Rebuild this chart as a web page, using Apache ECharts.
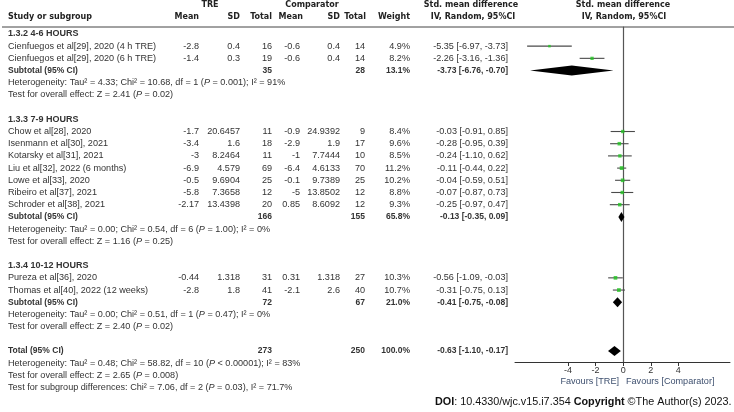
<!DOCTYPE html>
<html>
<head>
<meta charset="utf-8">
<script src="https://cdn.jsdelivr.net/npm/echarts@6/dist/echarts.min.js"></script>
<style>
  html,body{margin:0;padding:0;background:#fff;}
  #chart{width:734px;height:412px;}
</style>
</head>
<body>
<div id="chart"></div>
<script>
// ===== Data: studies =====
const STUDIES = [
  'Cienfuegos et al[29], 2020 (4 h TRE)',
  'Cienfuegos et al[29], 2020 (6 h TRE)',
  'Chow et al[28], 2020',
  'Isenmann et al[30], 2021',
  'Kotarsky et al[31], 2021',
  'Liu et al[32], 2022 (6 months)',
  'Lowe et al[33], 2020',
  'Ribeiro et al[37], 2021',
  'Schroder et al[38], 2021',
  'Pureza et al[36], 2020',
  'Thomas et al[40], 2022 (12 weeks)'
];
const TRE_MEAN  = [-2.8, -1.4, -1.7, -3.4, -3, -6.9, -0.5, -5.8, -2.17, -0.44, -2.8];
const TRE_SD    = [0.4, 0.3, 20.6457, 1.6, 8.2464, 4.579, 9.6904, 7.3658, 13.4398, 1.318, 1.8];
const TRE_N     = [16, 19, 11, 18, 11, 69, 25, 12, 20, 31, 41];
const COMP_MEAN = [-0.6, -0.6, -0.9, -2.9, -1, -6.4, -0.1, -5, 0.85, 0.31, -2.1];
const COMP_SD   = [0.4, 0.4, 24.9392, 1.9, 7.7444, 4.6133, 9.7389, 13.8502, 8.6092, 1.318, 2.6];
const COMP_N    = [14, 14, 9, 17, 10, 70, 25, 12, 12, 27, 40];
const WEIGHT    = [4.9, 8.2, 8.4, 9.6, 8.5, 11.2, 10.2, 8.8, 9.3, 10.3, 10.7];
const SMD       = [-5.35, -2.26, -0.03, -0.28, -0.24, -0.11, -0.04, -0.07, -0.25, -0.56, -0.31];
const CI_LO     = [-6.97, -3.16, -0.91, -0.95, -1.10, -0.44, -0.59, -0.87, -0.97, -1.09, -0.75];
const CI_HI     = [-3.73, -1.36, 0.85, 0.39, 0.62, 0.22, 0.51, 0.73, 0.47, -0.03, 0.13];
const STUDY_ROW = [1, 2, 8, 9, 10, 11, 12, 13, 14, 20, 21];

// ===== Data: subgroups =====
const GROUP_LABEL  = ['1.3.2 4-6 HOURS', '1.3.3 7-9 HOURS', '1.3.4 10-12 HOURS'];
const GROUP_HEAD_ROW = [0, 7, 19];
const GROUP_SUB_ROW  = [3, 15, 22];
const GROUP_TRE_N  = [35, 166, 72];
const GROUP_COMP_N = [28, 155, 67];
const GROUP_WEIGHT = [13.1, 65.8, 21.0];
const GROUP_SMD    = [-3.73, -0.13, -0.41];
const GROUP_LO     = [-6.76, -0.35, -0.75];
const GROUP_HI     = [-0.70, 0.09, -0.08];
const GROUP_HET = [
  'Heterogeneity: Tau² = 4.33; Chi² = 10.68, df = 1 ({i|P} = 0.001); I² = 91%',
  'Heterogeneity: Tau² = 0.00; Chi² = 0.54, df = 6 ({i|P} = 1.00); I² = 0%',
  'Heterogeneity: Tau² = 0.00; Chi² = 0.51, df = 1 ({i|P} = 0.47); I² = 0%'
];
const GROUP_TEST = [
  'Test for overall effect: Z = 2.41 ({i|P} = 0.02)',
  'Test for overall effect: Z = 1.16 ({i|P} = 0.25)',
  'Test for overall effect: Z = 2.40 ({i|P} = 0.02)'
];

// ===== Data: total =====
const TOTAL_ROW = 26;
const TOTAL_TRE_N = 273, TOTAL_COMP_N = 250, TOTAL_WEIGHT = 100.0;
const TOTAL_SMD = -0.63, TOTAL_LO = -1.10, TOTAL_HI = -0.17;
const TOTAL_NOTES = [
  'Heterogeneity: Tau² = 0.48; Chi² = 58.82, df = 10 ({i|P} < 0.00001); I² = 83%',
  'Test for overall effect: Z = 2.65 ({i|P} = 0.008)',
  'Test for subgroup differences: Chi² = 7.06, df = 2 ({i|P} = 0.03), I² = 71.7%'
];

const X_TICKS = [-4, -2, 0, 2, 4];

// ===== Styles =====
const TXT = '#333';
const F_BODY = '9.1px "Liberation Sans", Arial, sans-serif';
const F_BOLD = 'bold 8.5px "Liberation Sans", Arial, sans-serif';
const F_HEAD = 'bold 9px "Liberation Sans", Arial, sans-serif';
const F_COLHEAD = 'bold 8px "DejaVu Sans", Verdana, sans-serif';
const RICH = { i: { font: 'italic 9.1px "Liberation Sans", Arial, sans-serif', fill: TXT } };
const COL = { name: 8, treMean: 199, treSD: 240, treN: 272, compMean: 300, compSD: 340, compN: 365, weight: 410, ci: 508 };

function f2(v){ return v.toFixed(2); }
function ciText(m, lo, hi){ return f2(m) + ' [' + f2(lo) + ', ' + f2(hi) + ']'; }
function cell(x, text, align, font){ return { x, text: String(text), align: align || 'right', font: font || F_BODY }; }

// ===== Table rows =====
const tableRows = [];
GROUP_LABEL.forEach((g, gi) => {
  tableRows.push({ row: GROUP_HEAD_ROW[gi], cells: [cell(COL.name, g, 'left', F_HEAD)] });
  tableRows.push({ row: GROUP_SUB_ROW[gi], cells: [
    cell(COL.name, 'Subtotal (95% CI)', 'left', F_BOLD),
    cell(COL.treN, GROUP_TRE_N[gi], 'right', F_BOLD),
    cell(COL.compN, GROUP_COMP_N[gi], 'right', F_BOLD),
    cell(COL.weight, GROUP_WEIGHT[gi].toFixed(1) + '%', 'right', F_BOLD),
    cell(COL.ci, ciText(GROUP_SMD[gi], GROUP_LO[gi], GROUP_HI[gi]), 'right', F_BOLD)
  ]});
  tableRows.push({ row: GROUP_SUB_ROW[gi] + 1, cells: [cell(COL.name, GROUP_HET[gi], 'left')] });
  tableRows.push({ row: GROUP_SUB_ROW[gi] + 2, cells: [cell(COL.name, GROUP_TEST[gi], 'left')] });
});
STUDIES.forEach((s, i) => {
  tableRows.push({ row: STUDY_ROW[i], cells: [
    cell(COL.name, s, 'left'),
    cell(COL.treMean, TRE_MEAN[i]),
    cell(COL.treSD, TRE_SD[i]),
    cell(COL.treN, TRE_N[i]),
    cell(COL.compMean, COMP_MEAN[i]),
    cell(COL.compSD, COMP_SD[i]),
    cell(COL.compN, COMP_N[i]),
    cell(COL.weight, WEIGHT[i].toFixed(1) + '%'),
    cell(COL.ci, ciText(SMD[i], CI_LO[i], CI_HI[i]))
  ]});
});
tableRows.push({ row: TOTAL_ROW, cells: [
  cell(COL.name, 'Total (95% CI)', 'left', F_BOLD),
  cell(COL.treN, TOTAL_TRE_N, 'right', F_BOLD),
  cell(COL.compN, TOTAL_COMP_N, 'right', F_BOLD),
  cell(COL.weight, TOTAL_WEIGHT.toFixed(1) + '%', 'right', F_BOLD),
  cell(COL.ci, ciText(TOTAL_SMD, TOTAL_LO, TOTAL_HI), 'right', F_BOLD)
]});
TOTAL_NOTES.forEach((t, k) => tableRows.push({ row: TOTAL_ROW + 1 + k, cells: [cell(COL.name, t, 'left')] }));

// ===== Plot data =====
const whiskerData = STUDY_ROW.map((r, i) => [CI_LO[i], CI_HI[i], r]);
const squareData = STUDY_ROW.map((r, i) => [SMD[i], r, WEIGHT[i]]);
const diamondData = GROUP_SUB_ROW.map((r, gi) => [GROUP_LO[gi], GROUP_SMD[gi], GROUP_HI[gi], r])
  .concat([[TOTAL_LO, TOTAL_SMD, TOTAL_HI, TOTAL_ROW]]);

// ===== Chart =====
const chart = echarts.init(document.getElementById('chart'), null, { renderer: 'canvas' });

function headText(x, y, text, align){
  return { type: 'text', x, y, silent: true,
    style: { text, font: F_COLHEAD, fill: '#222', align: align || 'center', verticalAlign: 'middle' } };
}

chart.setOption({
  animation: false,
  grid: { left: 515, right: 4, top: 27, bottom: 50, outerBoundsMode: 'none' },
  xAxis: {
    type: 'value', min: -7.85, max: 7.75,
    axisLine: { onZero: false, lineStyle: { color: '#333', width: 1 } },
    axisTick: { customValues: X_TICKS, length: 4, lineStyle: { color: '#333' } },
    axisLabel: { customValues: X_TICKS, margin: 4, fontSize: 9, color: '#333', fontFamily: '"Liberation Sans", Arial, sans-serif' },
    splitLine: { show: false }
  },
  yAxis: {
    type: 'value', inverse: true, min: -0.57, max: 26.9,
    axisLine: { show: true, onZero: true, lineStyle: { color: '#555', width: 1.2 } },
    axisTick: { show: false }, axisLabel: { show: false }, splitLine: { show: false }
  },
  series: [
    {
      type: 'custom', name: 'ci', data: whiskerData, encode: { x: [0, 1], y: 2 }, clip: false,
      renderItem: (params, api) => {
        const a = api.coord([api.value(0), api.value(2)]);
        const b = api.coord([api.value(1), api.value(2)]);
        return { type: 'line', shape: { x1: a[0], y1: a[1], x2: b[0], y2: b[1] },
          style: { stroke: '#4a4a4a', lineWidth: 1.1 } };
      }
    },
    {
      type: 'scatter', name: 'smd', data: squareData, symbol: 'rect',
      symbolSize: v => Math.sqrt(v[2]) * 1.15,
      itemStyle: { color: '#22c422' }, silent: true
    },
    {
      type: 'custom', name: 'pooled', data: diamondData, encode: { x: [0, 1, 2], y: 3 }, clip: false,
      renderItem: (params, api) => {
        const row = api.value(3);
        const l = api.coord([api.value(0), row]);
        const m = api.coord([api.value(1), row]);
        const r = api.coord([api.value(2), row]);
        const h = 5;
        return { type: 'polygon', shape: { points: [[l[0], l[1]], [m[0], m[1] - h], [r[0], r[1]], [m[0], m[1] + h]] },
          style: { fill: '#000' } };
      }
    },
    {
      type: 'custom', name: 'table', data: tableRows.map(t => [0, t.row]), clip: false, silent: true,
      renderItem: (params, api) => {
        const t = tableRows[params.dataIndex];
        const y = api.coord([0, api.value(1)])[1];
        return { type: 'group', children: t.cells.map(c => ({
          type: 'text', x: c.x, y: y,
          style: { text: c.text, font: c.font, fill: TXT, align: c.align, verticalAlign: 'middle', rich: RICH }
        })) };
      }
    }
  ],
  graphic: [
    { type: 'line', silent: true, shape: { x1: 2, y1: 27, x2: 734, y2: 27 }, style: { stroke: '#444', lineWidth: 1 } },
    headText(210, 5, 'TRE'),
    headText(312, 5, 'Comparator'),
    headText(471, 5, 'Std. mean difference'),
    headText(623, 5, 'Std. mean difference'),
    headText(8, 17, 'Study or subgroup', 'left'),
    headText(199, 17, 'Mean', 'right'),
    headText(240, 17, 'SD', 'right'),
    headText(272, 17, 'Total', 'right'),
    headText(303, 17, 'Mean', 'right'),
    headText(340, 17, 'SD', 'right'),
    headText(366, 17, 'Total', 'right'),
    headText(410, 17, 'Weight', 'right'),
    headText(473, 17, 'IV, Random, 95%CI'),
    headText(624, 17, 'IV, Random, 95%CI'),
    { type: 'text', x: 619, y: 381, silent: true,
      style: { text: 'Favours [TRE]', font: F_BODY, fill: '#3d4f6e', align: 'right', verticalAlign: 'middle' } },
    { type: 'text', x: 626, y: 381, silent: true,
      style: { text: 'Favours [Comparator]', font: F_BODY, fill: '#3d4f6e', align: 'left', verticalAlign: 'middle' } },
    { type: 'text', x: 435, y: 402, silent: true,
      style: { text: '{b|DOI}: 10.4330/wjc.v15.i7.354 {b|Copyright} ©The Author(s) 2023.',
        font: '10.8px "Liberation Sans", Arial, sans-serif', fill: '#111', align: 'left', verticalAlign: 'middle',
        rich: { b: { font: 'bold 10.8px "Liberation Sans", Arial, sans-serif', fill: '#111' } } } }
  ]
});

window.addEventListener('resize', () => chart.resize());
</script>
</body>
</html>
